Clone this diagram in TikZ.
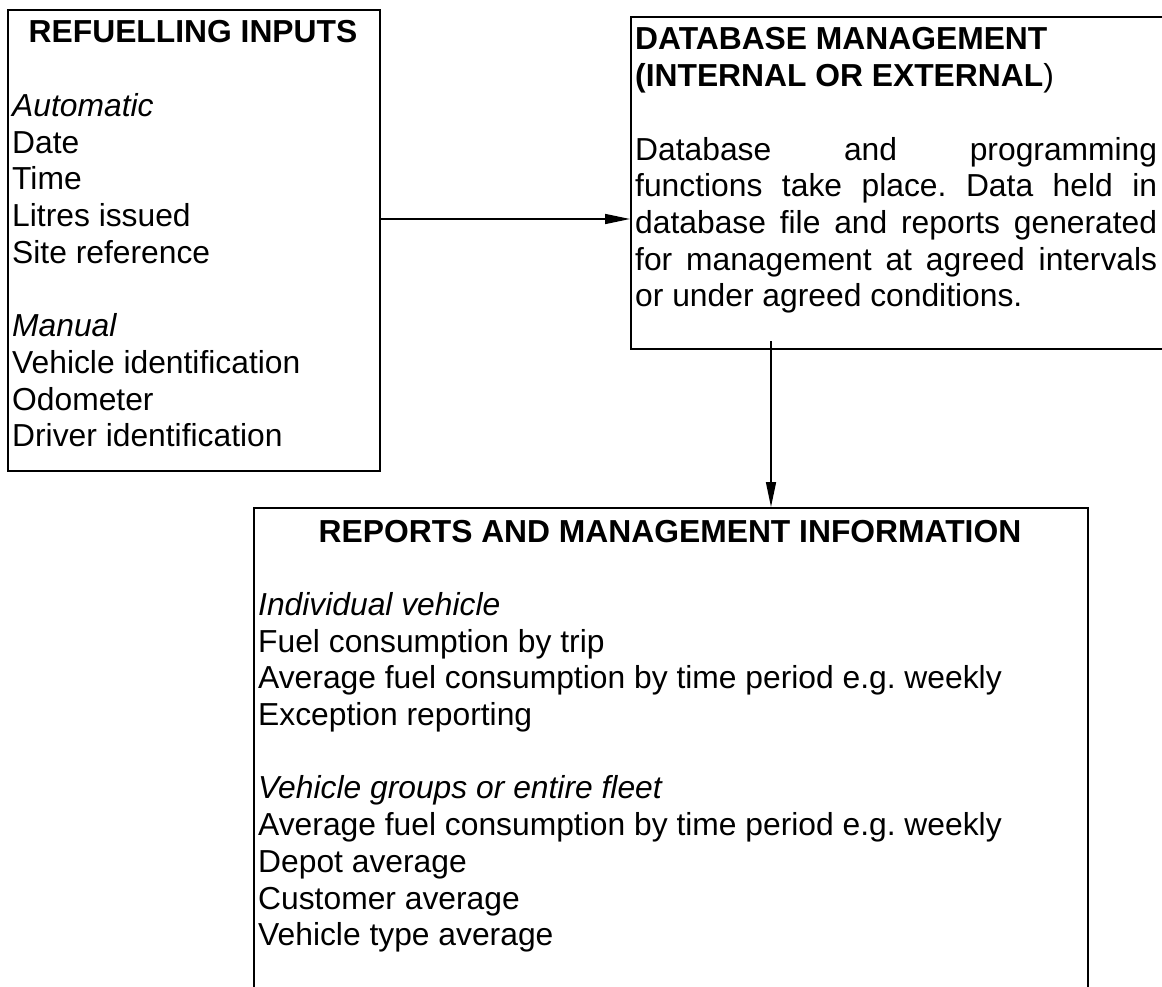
\documentclass[tikz,border=0pt]{standalone}
\usepackage{fontspec}
\setmainfont{Liberation Sans}
\usetikzlibrary{arrows.meta}
\frenchspacing
\tikzset{
  boxst/.style={draw, line width=1.6pt, rectangle, inner sep=0pt, anchor=north west},
  txt/.style={inner sep=0pt, anchor=base west, font=\fontsize{31.8pt}{36.7pt}\selectfont},
  ttl/.style={inner sep=0pt, anchor=base, font=\fontsize{31.8pt}{36.7pt}\selectfont\bfseries},
  arr/.style={line width=1.6pt, -{Triangle[length=25pt,width=10pt]}}
}
\begin{document}
\begin{tikzpicture}[x=1pt,y=-1pt]
\useasboundingbox (0,0) rectangle (1162,987);
% boxes
\node[boxst, minimum width=372pt, minimum height=461pt] (inp) at (7,9) {};
\node[boxst, minimum width=560pt, minimum height=332pt] (db) at (630,16) {};
\node[boxst, minimum width=834pt, minimum height=520pt] (rep) at (253,507) {};
% refuelling inputs
\node[ttl] (inpT) at (193,43) {REFUELLING INPUTS};
\foreach \t [count=\i] in {{\itshape Automatic},Date,Time,Litres issued,Site reference,{},{\itshape Manual},Vehicle identification,Odometer,Driver identification}
  \node[txt] (inpL\i) at (12,{43+36.7*(\i+1)}) {\t};
% database management
\node[txt] (dbT1) at (635,50) {\bfseries DATABASE MANAGEMENT};
\node[txt] (dbT2) at (635,86.7) {\textbf{(INTERNAL OR EXTERNAL})};
\foreach \t [count=\i] in {{\makebox[522pt][s]{Database and programming}},{\makebox[522pt][s]{functions take place. Data held in}},{\makebox[522pt][s]{database file and reports generated}},{\makebox[522pt][s]{for management at agreed intervals}},{or under agreed conditions.}}
  \node[txt] (dbL\i) at (635,{86.7+36.7*(\i+1)}) {\t};
% reports
\node[ttl] (repT) at (670,542) {REPORTS AND MANAGEMENT INFORMATION};
\foreach \t [count=\i] in {{\itshape Individual vehicle},Fuel consumption by trip,Average fuel consumption by time period e.g. weekly,Exception reporting,{},{\itshape Vehicle groups or entire fleet},Average fuel consumption by time period e.g. weekly,Depot average,Customer average,Vehicle type average}
  \node[txt] (repL\i) at (258,{542+36.7*(\i+1)}) {\t};
% connectors
\coordinate (h) at (0,219);
\draw[arr] (h -| inp.east) -- (h -| db.west);
\coordinate (v) at (771,341);
\draw[arr] (v) -- (v |- rep.north);
\end{tikzpicture}
\end{document}
